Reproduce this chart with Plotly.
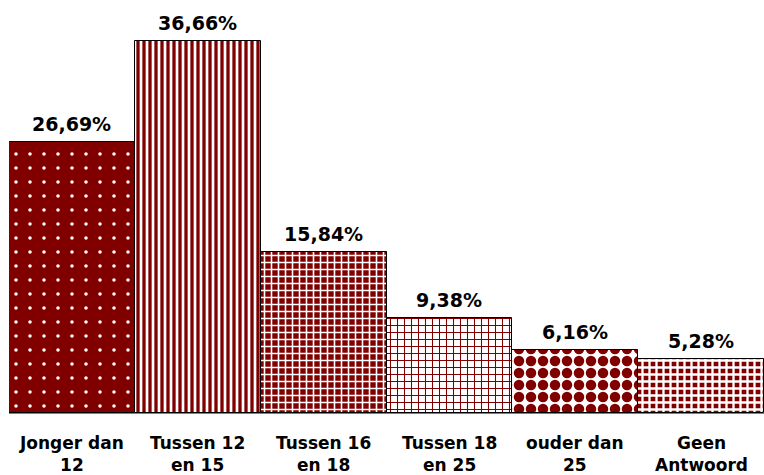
import plotly.graph_objects as go

# Age groups and their share of responses (%)
categories = ["Jonger dan 12", "Tussen 12 en 15", "Tussen 16 en 18",
              "Tussen 18 en 25", "ouder dan 25", "Geen Antwoord"]
tick_labels = ["Jonger dan<br>12", "Tussen 12<br>en 15", "Tussen 16<br>en 18",
               "Tussen 18<br>en 25", "ouder dan<br>25", "Geen<br>Antwoord"]
values = [26.69, 36.66, 15.84, 9.38, 6.16, 5.28]

DARK = "#800000"
WHITE = "#ffffff"
FONT = "DejaVu Sans"

# One fill pattern per bar
patterns = [
    dict(shape=".", fgcolor=WHITE, bgcolor=DARK, size=14, solidity=0.05),
    dict(shape="|", fgcolor=DARK, bgcolor=WHITE, size=6, solidity=0.55),
    dict(shape="+", fgcolor=WHITE, bgcolor=DARK, size=7, solidity=0.4),
    dict(shape="+", fgcolor=DARK, bgcolor=WHITE, size=7, solidity=0.28),
    dict(shape=".", fgcolor=DARK, bgcolor=WHITE, size=12, solidity=0.6),
    dict(shape="+", fgcolor=WHITE, bgcolor=DARK, size=7, solidity=0.55),
]

fig = go.Figure()
for i, (cat, val) in enumerate(zip(categories, values)):
    pat = dict(patterns[i], fillmode="overlay", fgopacity=1)
    fig.add_trace(go.Bar(
        x=[i], y=[val], width=1.0,
        marker=dict(color=WHITE, pattern=pat,
                    line=dict(color="#000000", width=1)),
        name=cat, showlegend=False, hoverinfo="skip",
    ))
    fig.add_annotation(
        x=i, y=val, xref="x", yref="y",
        text="<b>" + f"{val:.2f}".replace(".", ",") + "%</b>",
        showarrow=False, yanchor="bottom", yshift=5,
        font=dict(family=FONT, size=19, color="#000000"),
    )
    fig.add_annotation(
        x=i, y=0, xref="x", yref="paper",
        text="<b>" + tick_labels[i] + "</b>",
        showarrow=False, yanchor="top", yshift=-18,
        font=dict(family=FONT, size=17, color="#000000"),
    )

fig.update_layout(
    width=764, height=475,
    margin=dict(l=9, r=0, t=7, b=62),
    paper_bgcolor=WHITE, plot_bgcolor=WHITE,
    bargap=0,
    xaxis=dict(range=[-0.5, 5.5], showticklabels=False, showgrid=False,
               zeroline=False, showline=True, linecolor="#808080", linewidth=1,
               ticks=""),
    yaxis=dict(range=[0, 40], visible=False, showgrid=False, zeroline=False),
)

fig.write_html("out.html")
